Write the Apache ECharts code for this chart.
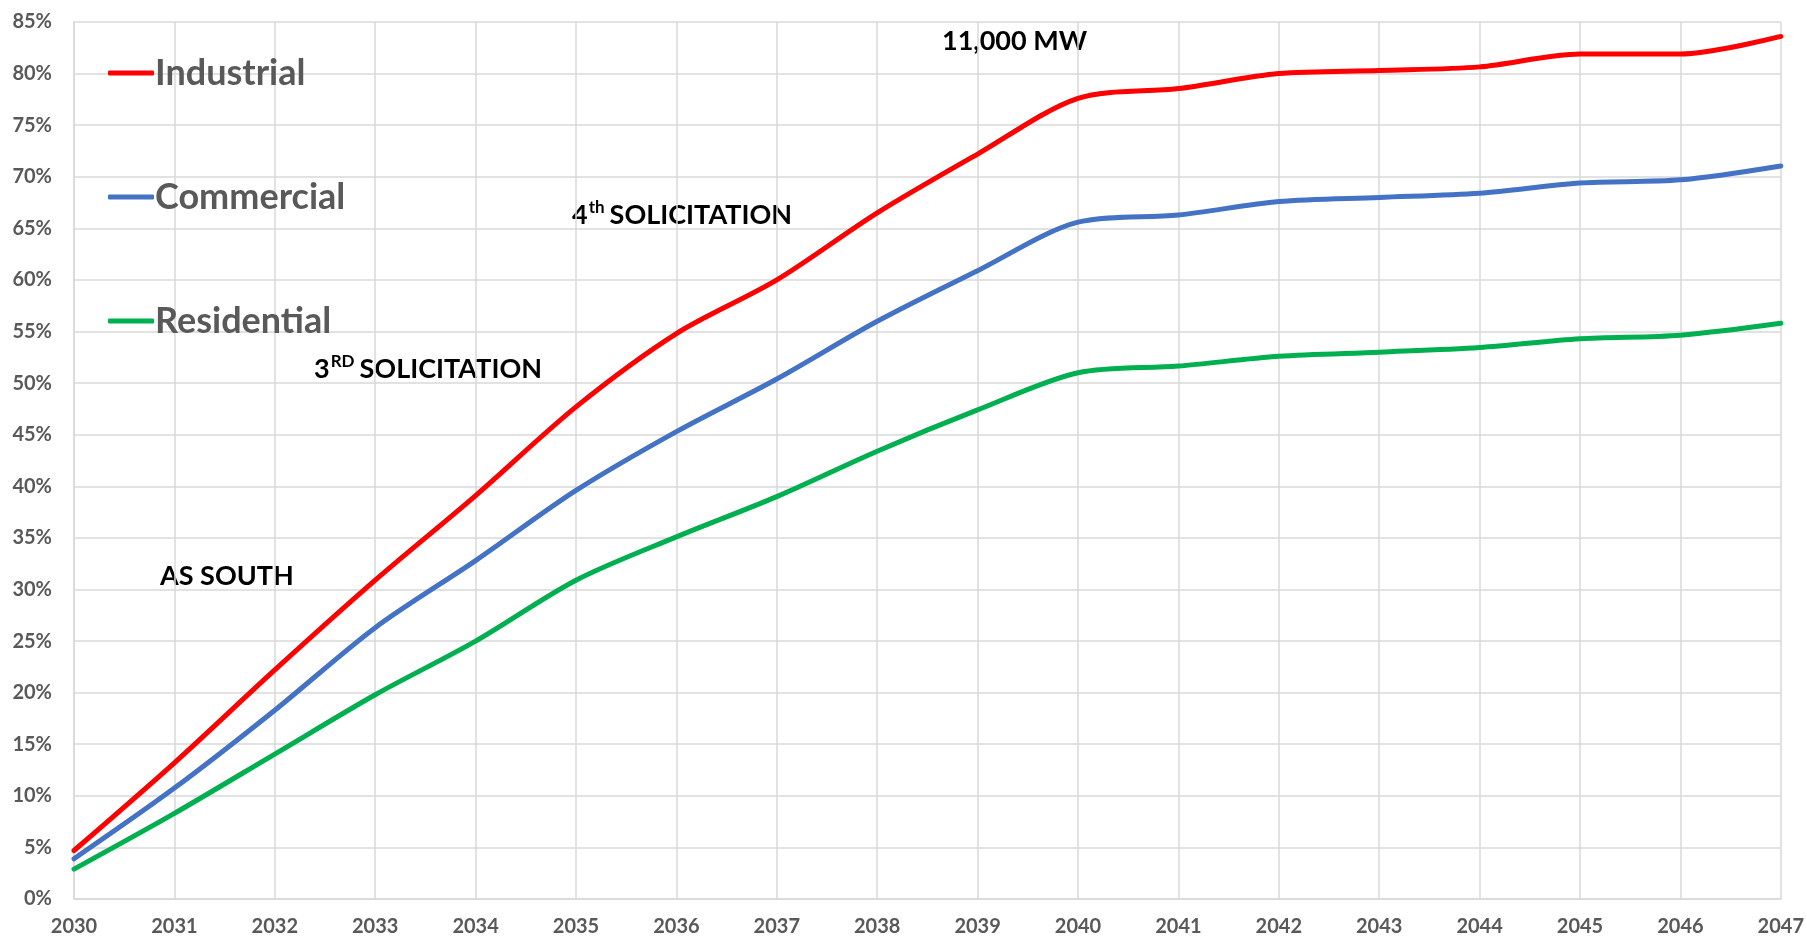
<!DOCTYPE html>
<html>
<head>
<meta charset="utf-8">
<script src="https://cdn.jsdelivr.net/npm/echarts@6/dist/echarts.min.js"></script>
<style>
  html, body { margin: 0; padding: 0; background: #fff; }
  #chart { width: 1807px; height: 948px; }
</style>
</head>
<body>
<div id="chart"></div>
<script>
// years on the x axis
var years = ['2030', '2031', '2032', '2033', '2034', '2035', '2036', '2037', '2038',
             '2039', '2040', '2041', '2042', '2043', '2044', '2045', '2046', '2047'];

// share in percent
var industrial  = [4.7, 13.2, 22.2, 30.9, 39.1, 47.7, 54.8, 60.0, 66.5, 72.2, 77.6, 78.55, 80.0, 80.3, 80.65, 81.9, 81.9, 83.6];
var commercial  = [3.9, 10.75, 18.3, 26.3, 32.8, 39.6, 45.3, 50.4, 56.0, 60.9, 65.6, 66.3, 67.6, 68.0, 68.4, 69.4, 69.7, 71.05];
var residential = [2.9, 8.3, 14.05, 19.8, 25.0, 30.9, 35.1, 39.0, 43.4, 47.4, 51.0, 51.65, 52.6, 53.0, 53.45, 54.3, 54.65, 55.8];

var FONT = 'Lato, "Open Sans", sans-serif';
var GREY = '#595959';
var GRID = '#D9D9D9';

var chart = echarts.init(document.getElementById('chart'));

function lineSeries(name, data, color) {
    return {
        name: name,
        type: 'line',
        data: data,
        smooth: 0.3,
        symbol: 'none',
        lineStyle: {width: 5, color: color, cap: 'round'},
        itemStyle: {color: color}
    };
}

// annotation text; sup parts lifted up
function note(left, top, rich) {
    return {
        type: 'text',
        left: left,
        top: top,
        style: {
            text: rich,
            font: 'bold 27px ' + FONT,
            fill: '#000',
            rich: {
                n: {fontSize: 27, fontWeight: 'bold', fontFamily: FONT, color: '#000', lineHeight: 30, verticalAlign: 'bottom'},
                s: {fontSize: 17, fontWeight: 'bold', fontFamily: FONT, color: '#000', lineHeight: 30, verticalAlign: 'top', padding: [0, 5, 0, 1]}
            }
        }
    };
}

var option = {
    animation: false,
    backgroundColor: '#fff',
    grid: {left: 74, right: 20, top: 22, bottom: 49, containLabel: false},
    legend: {
        orient: 'vertical',
        left: 108,
        top: 52,
        padding: 0,
        itemGap: 82,
        itemWidth: 46,
        itemHeight: 5,
        icon: 'roundRect',
        textStyle: {
            fontFamily: FONT, fontSize: 36, fontWeight: 'bold', color: GREY,
            lineHeight: 42, padding: [0, 0, 0, -4]
        },
        data: ['Industrial', 'Commercial', 'Residential']
    },
    xAxis: {
        type: 'category',
        data: years,
        boundaryGap: false,
        axisLine: {lineStyle: {color: GRID, width: 1.5}},
        axisTick: {show: false},
        axisLabel: {fontFamily: FONT, fontSize: 20, fontWeight: 'bold', color: GREY, margin: 18},
        splitLine: {show: true, lineStyle: {color: GRID, width: 1.5}}
    },
    yAxis: {
        type: 'value',
        min: 0,
        max: 85,
        interval: 5,
        axisLine: {show: true, lineStyle: {color: GRID, width: 1.5}},
        axisTick: {show: false},
        axisLabel: {fontFamily: FONT, fontSize: 20, fontWeight: 'bold', color: GREY, margin: 22, formatter: '{value}%'},
        splitLine: {lineStyle: {color: GRID, width: 1.5}}
    },
    graphic: [
        note(942, 28, '{n|11,000 MW}'),
        note(572, 199, '{n|4}{s|th}{n|SOLICITATION}'),
        note(314, 353, '{n|3}{s|RD}{n|SOLICITATION}'),
        note(160, 563, '{n|AS SOUTH}')
    ],
    series: [
        lineSeries('Industrial', industrial, '#FF0000'),
        lineSeries('Commercial', commercial, '#4472C4'),
        lineSeries('Residential', residential, '#00B050')
    ]
};

chart.setOption(option);
</script>
</body>
</html>
